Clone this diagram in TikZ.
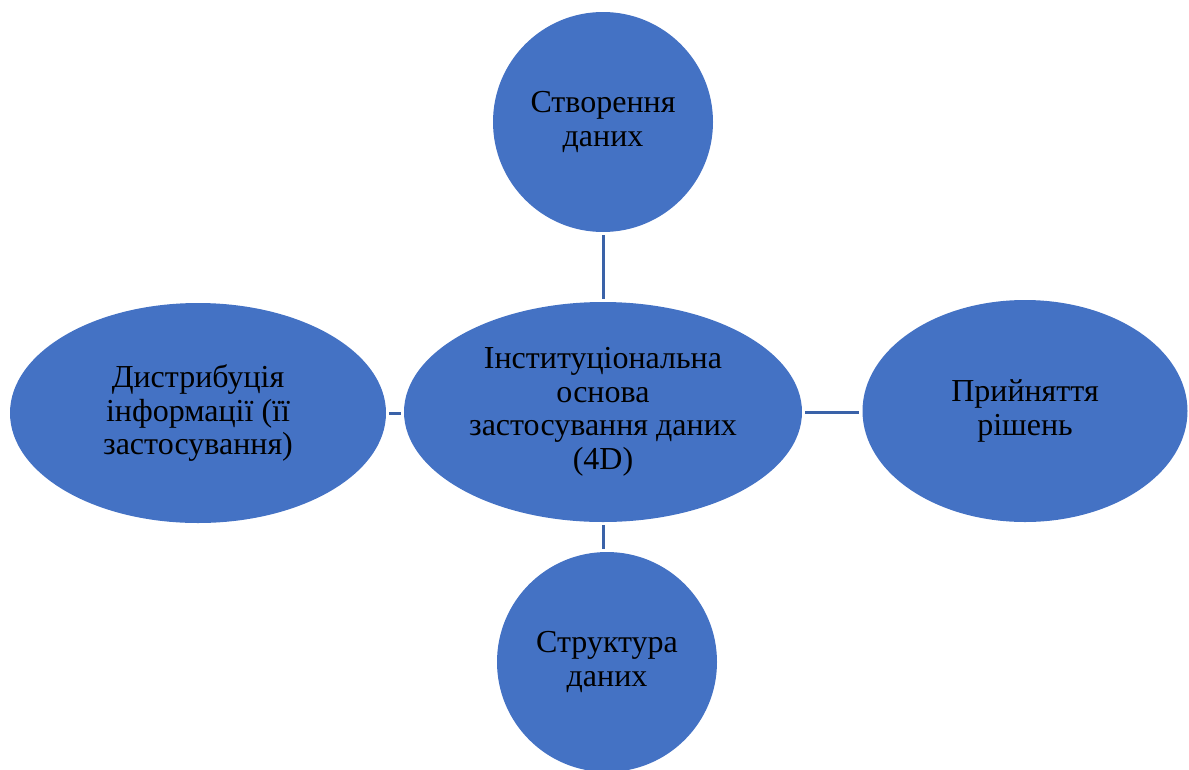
\documentclass[tikz,border=0pt]{standalone}
\usepackage{fontspec}
\setmainfont{Liberation Serif}
\usetikzlibrary{shapes.geometric}
\definecolor{fillblue}{HTML}{4472C4}
\definecolor{lineblue}{HTML}{3A62A8}
\begin{document}
\begin{tikzpicture}[x=1pt,y=-1pt,
  blob/.style={ellipse,fill=fillblue,draw=none,inner sep=0pt,align=center,
    font=\fontsize{32}{33.5}\selectfont,text=black,
    execute at begin node={\vspace*{6pt}}},
  link/.style={draw=lineblue,line width=3pt,shorten <=3pt,shorten >=3pt}]
\useasboundingbox (0,0) rectangle (1189,769);
\node[blob,minimum width=398pt,minimum height=220pt] (center) at (603,412)
  {Інституціональна\\основа\\застосування даних\\(4D)};
\node[blob,minimum width=220pt,minimum height=220pt] (top) at (603,122)
  {Створення\\даних};
\node[blob,minimum width=376pt,minimum height=220pt] (left) at (198,413)
  {Дистрибуція\\інформації (її\\застосування)};
\node[blob,minimum width=325pt,minimum height=222pt] (right) at (1025,411)
  {Прийняття\\рішень};
\node[blob,minimum width=220pt,minimum height=220pt] (bottom) at (607,662)
  {Структура\\даних};
\draw[link] (top.south) -- (center.north);
\draw[link] (center.south) -- (center.south |- bottom.north);
\draw[link] (left.east) -- (left.east -| center.west);
\draw[link] (center.east) -- (center.east -| right.west);
\end{tikzpicture}
\end{document}
